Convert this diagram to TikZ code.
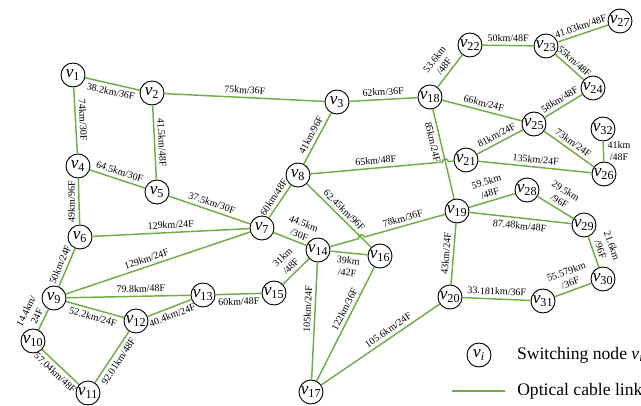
\documentclass[tikz,border=0pt]{standalone}
\usepackage{fontspec}
\setmainfont{Liberation Serif}
\usetikzlibrary{automata, positioning}
\definecolor{linkgreen}{RGB}{112,173,71}

\newcommand{\vnode}[1]{\textit{v}\textsubscript{#1}}

\begin{document}
\begin{tikzpicture}[
    x=0.75pt,
    y=0.75pt,
    link/.style={draw=linkgreen, line width=1.1pt},
    every edge/.style={link},
    lbltxt/.style={font=\fontsize{7.5}{9}\selectfont, inner sep=2.5pt, align=center},
    lbl/.style={lbltxt, sloped}
]

\tikzstyle{every state}=[
    draw=black,
    line width=0.7pt,
    minimum size=18pt,
    inner sep=0pt,
    font=\fontsize{13}{13}\selectfont
]

\useasboundingbox (0,0) rectangle (641,-405);

\node[state] (v1) at (73,-75) {\vnode{1}};
\node[state] (v2) at (152,-93) {\vnode{2}};
\node[state] (v3) at (337,-102) {\vnode{3}};
\node[state] (v4) at (78,-166) {\vnode{4}};
\node[state] (v5) at (157,-192) {\vnode{5}};
\node[state] (v6) at (80,-237) {\vnode{6}};
\node[state] (v7) at (262,-228) {\vnode{7}};
\node[state] (v8) at (298,-175) {\vnode{8}};
\node[state] (v9) at (54,-298) {\vnode{9}};
\node[state] (v10) at (33,-341) {\vnode{10}};
\node[state] (v11) at (88,-393) {\vnode{11}};
\node[state] (v12) at (136,-321) {\vnode{12}};
\node[state] (v13) at (203,-295) {\vnode{13}};
\node[state] (v14) at (318,-250) {\vnode{14}};
\node[state] (v15) at (274,-293) {\vnode{15}};
\node[state] (v16) at (380,-256) {\vnode{16}};
\node[state] (v17) at (311,-392) {\vnode{17}};
\node[state] (v18) at (430,-97) {\vnode{18}};
\node[state] (v19) at (457,-211) {\vnode{19}};
\node[state] (v20) at (450,-297) {\vnode{20}};
\node[state] (v21) at (466,-160) {\vnode{21}};
\node[state] (v22) at (470,-45) {\vnode{22}};
\node[state] (v23) at (546,-46) {\vnode{23}};
\node[state] (v24) at (593,-88) {\vnode{24}};
\node[state] (v25) at (534,-124) {\vnode{25}};
\node[state] (v26) at (604,-174) {\vnode{26}};
\node[state] (v27) at (620,-21) {\vnode{27}};
\node[state] (v28) at (527,-190) {\vnode{28}};
\node[state] (v29) at (584,-225) {\vnode{29}};
\node[state] (v30) at (603,-279) {\vnode{30}};
\node[state] (v31) at (543,-301) {\vnode{31}};
\node[state] (v32) at (603,-129) {\vnode{32}};

\path
(v1) edge node[lbl, below] {38.2km/36F} (v2)
(v1) edge node[lbl, above] {74km/30F} (v4)
(v2) edge node[lbl, above] {75km/36F} (v3)
(v2) edge node[lbl, above] {41.5km/48F} (v5)
(v4) edge node[lbl, above] {64.5km/30F} (v5)
(v4) edge node[lbltxt, rotate=90, above] {49km/96F} (v6)
(v5) edge node[lbl, above] {37.5km/30F} (v7)
(v6) edge node[lbl, above] {129km/24F} (v7)
(v9) edge node[lbl, above] {50km/24F} (v6)
(v9) edge node[lbl, above, pos=0.45] {129km/24F} (v7)
(v9) edge node[lbl, above, pos=0.6] {79.8km/48F} (v13)
(v9) edge node[lbl, below] {52.2km/24F} (v12)
(v10) edge node[lbl, above] {14.4km/\\24F} (v9)
(v10) edge node[lbl, below] {57.04km/48F} (v11)
(v11) edge node[lbl, below] {92.01km/48F} (v12)
(v12) edge node[lbl, below] {40.4km/24F} (v13)
(v13) edge node[lbl, below] {60km/48F} (v15)
(v15) edge node[lbl, above] {31km\\/48F} (v14)
(v7) edge node[lbl, above, pos=0.7] {44.5km\\/30F} (v14)
(v7) edge node[lbl, above] {60km/48F} (v8)
(v8) edge node[lbl, above] {41km/96F} (v3)
(v8) edge node[lbl, above] {62.45km/96F} (v16)
(v14) edge node[lbl, below] {39km\\/42F} (v16)
(v14) edge node[lbl, above, pos=0.4] {105km/24F} (v17)
(v16) edge node[lbl, above, pos=0.4] {122km/36F} (v17)
(v17) edge node[lbl, above, pos=0.6] {105.6km/24F} (v20)
(v3) edge node[lbl, above] {62km/36F} (v18)
(v18) edge node[lbl, above] {53.6km\\/48F} (v22)
(v22) edge node[lbl, above] {50km/48F} (v23)
(v23) edge node[lbl, above] {41.03km/48F} (v27)
(v23) edge node[lbl, above] {55km/48F} (v24)
(v18) edge node[lbl, above] {66km/24F} (v25)
(v25) edge node[lbl, above] {58km/48F} (v24)
(v21) edge node[lbl, above] {81km/24F} (v25)
(v25) edge node[lbl, above] {73km/24F} (v26)
(v21) edge node[lbl, above] {135km/24F} (v26)
(v32) edge node[lbltxt, right] {41km\\/48F} (v26)
(v18) edge node[lbl, below, pos=0.35] {85km/24F} (v19)
(v19) edge node[lbl, above] {59.5km\\/48F} (v28)
(v28) edge node[lbl, above] {29.5km\\/96F} (v29)
(v19) edge node[lbl, below] {87.48km/48F} (v29)
(v29) edge node[lbl, above] {21.6km\\/96F} (v30)
(v20) edge node[lbl, above] {43km/24F} (v19)
(v20) edge node[lbl, above] {33.181km/36F} (v31)
(v31) edge node[lbl, above] {55.579km\\/36F} (v30);

% hop-overs where two links cross
\coordinate (hopa) at (442.36,-162.11);
\coordinate (hopb) at (358.7,-238.6);
\draw[link] (v8) -- node[lbl, above] {65km/48F} (hopa)
    arc[start angle=185.1, end angle=5.1, radius=3] -- (v21);
\draw[link] (v14) -- (hopb)
    arc[start angle=195.7, end angle=15.7, radius=3] -- node[lbl, above] {78km/36F} (v19);

% legend
\node[state] (vi) at (479,-355) {\vnode{\textit{i}}};
\node[right=19pt of vi, inner sep=0pt, font=\fontsize{13.2}{15}\selectfont] (lgnode) {Switching node \vnode{\textit{i}}};
\coordinate (la) at (452,-391);
\coordinate (lb) at (505,-391);
\path (la) edge (lb);
\node[right=9pt of lb, inner sep=0pt, font=\fontsize{13.2}{15}\selectfont] (lglink) {Optical cable link};

\end{tikzpicture}
\end{document}
